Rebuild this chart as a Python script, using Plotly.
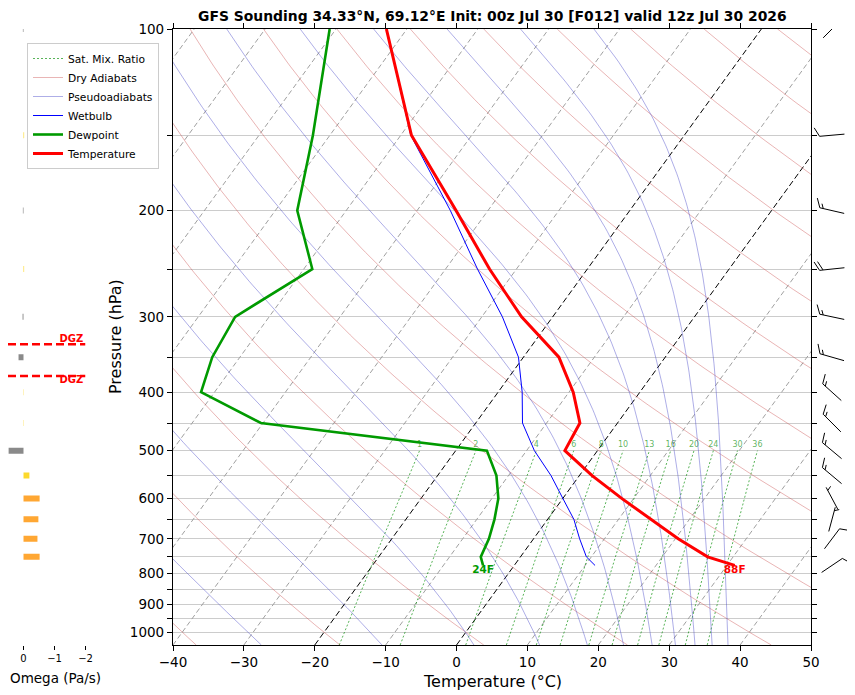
# Skew-T sounding (GFS, 34.33N 69.12E) with omega bars and wind barbs
import numpy as np
import plotly.graph_objects as go

# ---- sounding data (hPa / degC), surface first ----
p_levels = [775, 750, 700, 650, 600, 550, 500, 450, 400, 350, 300, 250, 200, 150, 100]
temp_c = [31.1, 26.4, 20.4, 14.6, 8.3, 1.8, -4.6, -5.3, -9.4, -15.0, -24.4, -33.8, -44.5, -58.5, -72.9]
dewpt_c = [-4.4, -5.6, -6.3, -7.5, -9.1, -11.7, -15.6, -50.3, -61.9, -63.9, -64.8, -58.8, -66.9, -72.4, -80.9]
wetbulb_c = [11.4, 9.3, 6.5, 3.7, 0.0, -4.0, -8.9, -13.4, -16.6, -20.7, -27.1, -35.5, -45.3, -58.6, -72.9]

# ---- vertical velocity (Pa/s) ----
omega_p = [100, 150, 200, 250, 300, 350, 400, 450, 500, 550, 600, 650, 700, 750]
omega = [0.02, -0.02, 0.02, -0.02, 0.03, 0.16, -0.01, -0.01, 0.48, -0.19, -0.52, -0.48, -0.45, -0.52]

# ---- winds (direction from, knots) ----
wind_p = [100, 150, 200, 250, 300, 350, 400, 450, 500, 550, 600, 650, 700, 775]
wind_dir = [45, 265, 283, 264, 282, 286, 312, 315, 310, 310, 332, 15, 37, 56]
wind_kt = [15, 10, 15, 20, 15, 15, 15, 15, 15, 15, 5, 5, 10, 10]

# ---- background lines ----
isotherms = [-100, -90, -80, -70, -60, -50, -40, -30, -10, 10, 20, 30, 40, 50]
key_isotherms = [-20, 0]
dry_theta = [-40, -20, 0, 20, 40, 60, 80, 100, 120, 140, 160, 180, 200, 220]
moist_theta = [-30, -10, 10, 30, 50, 70, 90, 110, 130, 150, 170]
mix_ratios = [1, 2, 4, 6, 8, 10, 13, 16, 20, 24, 30, 36]

TITLE = "GFS Sounding 34.33°N, 69.12°E Init: 00z Jul 30 [F012] valid 12z Jul 30 2026"

P_BOT, P_TOP = 1050.0, 100.0
W, H = 855, 695            # browser window
OFF = 8                    # page body margin
WP, HP = W - OFF, H - OFF  # figure size
X0, X1, Y0, Y1 = 173, 811, 29, 645          # main plot box, window pixels
PX_PER_DEC = (Y1 - Y0) / np.log10(P_BOT / P_TOP)
PX_PER_DEG = (X1 - X0) / 90.0
SKEW = 0.725 * PX_PER_DEC / PX_PER_DEG     # degC per decade of pressure

Rd, Cp, Lv, EPS = 287.04749, 1004.67, 2.50084e6, 0.621957
KAPPA = Rd / Cp
FONT = "DejaVu Sans"


def fx(px):
    return (px - OFF) / WP


def fy(py):
    return 1 - (py - OFF) / HP


def skew_x(t, p):
    return np.asarray(t, dtype=float) + SKEW * np.log10(P_BOT / np.asarray(p, dtype=float))


def moist_rate(t_k, p):
    es = 6.112 * np.exp(17.67 * (t_k - 273.15) / (t_k - 29.65))
    rs = EPS * es / (p - es)
    return (Rd * t_k + Lv * rs) / (Cp + Lv * Lv * rs * EPS / (Rd * t_k * t_k))


lnp = np.linspace(np.log(P_TOP), np.log(P_BOT), 150)
pgrid = np.exp(lnp)


def pseudoadiabat(theta_c):
    t = (theta_c + 273.15) * (P_TOP / 1000.0) ** KAPPA
    out = [t]
    for a, b in zip(lnp[:-1], lnp[1:]):
        h = b - a
        k1 = moist_rate(t, np.exp(a))
        k2 = moist_rate(t + h * k1 / 2, np.exp(a + h / 2))
        k3 = moist_rate(t + h * k2 / 2, np.exp(a + h / 2))
        k4 = moist_rate(t + h * k3, np.exp(b))
        t = t + h * (k1 + 2 * k2 + 2 * k3 + k4) / 6
        out.append(t)
    return np.array(out) - 273.15


def join(lines):
    xs, ys = [], []
    for x, y in lines:
        xs += list(x) + [None]
        ys += list(y) + [None]
    return xs, ys


fig = go.Figure()

# isotherms
xs, ys = join([(skew_x([t, t], [P_BOT, P_TOP]), [P_BOT, P_TOP]) for t in isotherms])
fig.add_trace(go.Scatter(x=xs, y=ys, mode="lines", showlegend=False, hoverinfo="skip",
                         line=dict(color="#a0a0a0", width=1, dash="5px,3px")))
xs, ys = join([(skew_x([t, t], [P_BOT, P_TOP]), [P_BOT, P_TOP]) for t in key_isotherms])
fig.add_trace(go.Scatter(x=xs, y=ys, mode="lines", showlegend=False, hoverinfo="skip",
                         line=dict(color="black", width=1, dash="6px,3px")))

# saturation mixing ratio lines
pmix = np.linspace(P_BOT, 500, 30)
mix_lines, lab_x = [], []
for w in mix_ratios:
    e = pmix * (w / 1000.0) / (EPS + w / 1000.0)
    lg = np.log(e / 6.112)
    td = 243.5 * lg / (17.67 - lg)
    mix_lines.append((skew_x(td, pmix), pmix))
    lab_x.append(skew_x(td[-1], 500)[()])
xs, ys = join(mix_lines)
fig.add_trace(go.Scatter(x=xs, y=ys, mode="lines", name="Sat. Mix. Ratio", hoverinfo="skip",
                         line=dict(color="rgba(0,140,0,0.65)", width=1, dash="2px,2px")))
fig.add_trace(go.Scatter(x=lab_x, y=[490] * len(mix_ratios), mode="text", showlegend=False,
                         text=[str(w) for w in mix_ratios], hoverinfo="skip",
                         textfont=dict(family=FONT, size=8, color="rgba(0,140,0,0.65)")))

# dry adiabats
xs, ys = join([(skew_x((th + 273.15) * (pgrid / 1000.0) ** KAPPA - 273.15, pgrid), pgrid)
               for th in dry_theta])
fig.add_trace(go.Scatter(x=xs, y=ys, mode="lines", name="Dry Adiabats", hoverinfo="skip",
                         line=dict(color="rgba(200,70,70,0.5)", width=0.8)))

# pseudoadiabats
xs, ys = join([(skew_x(pseudoadiabat(th), pgrid), pgrid) for th in moist_theta])
fig.add_trace(go.Scatter(x=xs, y=ys, mode="lines", name="Pseudoadiabats", hoverinfo="skip",
                         line=dict(color="rgba(70,70,200,0.55)", width=0.8)))

# profiles
fig.add_trace(go.Scatter(x=skew_x(wetbulb_c, p_levels), y=p_levels, mode="lines", name="Wetbulb",
                         line=dict(color="#0000ff", width=1)))
fig.add_trace(go.Scatter(x=skew_x(dewpt_c, p_levels), y=p_levels, mode="lines", name="Dewpoint",
                         line=dict(color="#009a00", width=2.6)))
fig.add_trace(go.Scatter(x=skew_x(temp_c, p_levels), y=p_levels, mode="lines", name="Temperature",
                         line=dict(color="#ff0000", width=3)))

# surface labels in F
for val, col in [(temp_c[0], "#ff0000"), (dewpt_c[0], "#009a00")]:
    fig.add_trace(go.Scatter(x=skew_x([val], [p_levels[0]]), y=[p_levels[0]], mode="text",
                             text=["<b>%dF</b>" % round(val * 9 / 5 + 32)], textposition="bottom center",
                             showlegend=False, hoverinfo="skip",
                             textfont=dict(family=FONT, size=10.5, color=col)))

# ---- omega panel ----
half = 3.0 / PX_PER_DEC
groups = {"#8a8a8a": [], "#fcd92c": [], "#ffa733": []}
for p, w in zip(omega_p, omega):
    col = "#8a8a8a" if w > 0 else ("#fcd92c" if w > -0.3 else "#ffa733")
    lo, hi = p * 10 ** (-half), p * 10 ** half
    groups[col].append(([0, w, w, 0, 0], [lo, lo, hi, hi, lo]))
for col, polys in groups.items():
    xs, ys = join(polys)
    fig.add_trace(go.Scatter(x=xs, y=ys, xaxis="x2", yaxis="y2", mode="lines", fill="toself",
                             fillcolor=col, line=dict(width=0, color=col), showlegend=False,
                             hoverinfo="skip"))


def level_of(tval):
    lp = np.log(p_levels)
    for i in range(len(temp_c) - 1):
        a, b = temp_c[i], temp_c[i + 1]
        if (a - tval) * (b - tval) <= 0 and a != b:
            f = (tval - a) / (b - a)
            return float(np.exp(lp[i] + f * (lp[i + 1] - lp[i])))


dgz = [level_of(-12), level_of(-18)]
for pz, pos in zip(dgz, ["bottom left", "top left"]):
    fig.add_trace(go.Scatter(x=[0.5, -2.0], y=[pz, pz], xaxis="x2", yaxis="y2", mode="lines",
                             line=dict(color="#ff0000", width=2.6, dash="8px,4px"),
                             showlegend=False, hoverinfo="skip"))
    fig.add_trace(go.Scatter(x=[-1.93], y=[pz], xaxis="x2", yaxis="y2", mode="text",
                             text=["<b>DGZ</b>"], textposition=pos, showlegend=False,
                             hoverinfo="skip",
                             textfont=dict(family=FONT, size=10, color="#ff0000")))

# ---- wind barbs (x3 in pixels, y3 in pressure) ----
L, FULL, SP, CX = 25.0, 10.0, 3.5, 21.0
bx, by = [], []


def add_seg(p, pts):
    for dx, dy in pts:
        bx.append(CX + dx)
        by.append(p * 10 ** (-dy / PX_PER_DEC))
    bx.append(None)
    by.append(None)


for p, d, spd in zip(wind_p, wind_dir, wind_kt):
    r = np.radians(d)
    u = np.array([np.sin(r), np.cos(r)])       # towards where the wind comes from
    rp = np.array([u[1], -u[0]])
    tip, end = -u * L / 2, u * L / 2
    add_seg(p, [tip, end])
    fv = 0.46 * u + 0.89 * rp
    n_full, n_half = int(spd // 10), int((spd % 10) >= 5)
    pos = 0
    if n_full == 0 and n_half:
        pos = 1
    for k in range(n_full):
        q = end - u * SP * pos
        add_seg(p, [q, q + fv * FULL])
        pos += 1
    if n_half:
        q = end - u * SP * pos
        add_seg(p, [q, q + fv * FULL / 2])
fig.add_trace(go.Scatter(x=bx, y=by, xaxis="x3", yaxis="y3", mode="lines",
                         line=dict(color="black", width=1), showlegend=False, hoverinfo="skip"))

# ---- layout ----
yrange = [np.log10(P_BOT), np.log10(P_TOP)]
ydom = [fy(Y1), fy(Y0)]
ptick = [100, 150, 200, 250, 300, 350, 400, 450, 500, 550, 600, 650, 700, 750, 800, 850, 900, 950, 1000]
xt = [-40, -30, -20, -10, 0, 10, 20, 30, 40, 50]

fig.update_layout(
    width=WP, height=HP, margin=dict(l=0, r=0, t=0, b=0, pad=0, autoexpand=False),
    plot_bgcolor="white", paper_bgcolor="white",
    font=dict(family=FONT, color="black"),
    xaxis=dict(domain=[fx(X0), fx(X1)], range=[-40, 50], tickvals=xt,
               ticktext=[str(v).replace("-", "\u2212") for v in xt],
               showgrid=False, zeroline=False, showline=True, linecolor="black", linewidth=1.2,
               mirror="ticks", ticks="outside", ticklen=5, tickcolor="black",
               tickfont=dict(size=13.5), anchor="y", automargin=False),
    yaxis=dict(domain=ydom, type="log", range=yrange, tickvals=ptick,
               ticktext=[str(v) if v % 100 == 0 else "" for v in ptick],
               showgrid=True, gridcolor="#cccccc", gridwidth=1, zeroline=False,
               showline=True, linecolor="black", linewidth=1.2, mirror="ticks",
               ticks="outside", ticklen=5, tickcolor="black", tickfont=dict(size=13.5),
               anchor="x", automargin=False),
    xaxis2=dict(domain=[fx(8), fx(85.5)], range=[0.5, -2.0], tickvals=[0, -1, -2],
                ticktext=["0", "\u22121", "\u22122"], showgrid=False, zeroline=False,
                showline=False, ticks="outside", ticklen=4, tickcolor="black",
                tickfont=dict(size=10), anchor="y2", automargin=False),
    yaxis2=dict(domain=ydom, type="log", range=yrange, visible=False, anchor="x2"),
    xaxis3=dict(domain=[fx(X1), 1.0], range=[0, W - X1], visible=False, anchor="y3"),
    yaxis3=dict(domain=ydom, type="log", range=yrange, visible=False, anchor="x3"),
    legend=dict(x=fx(27), y=fy(43), xanchor="left", yanchor="top",
                bgcolor="rgba(255,255,255,0.85)", bordercolor="#cccccc", borderwidth=1,
                font=dict(size=10.7), tracegroupgap=0),
    annotations=[
        dict(text="<b>" + TITLE + "</b>", x=fx((X0 + X1) / 2), y=fy(16), xref="paper",
             yref="paper", xanchor="center", yanchor="middle", showarrow=False,
             font=dict(size=13.9)),
        dict(text="Temperature (°C)", x=fx((X0 + X1) / 2), y=fy(681), xref="paper",
             yref="paper", xanchor="center", yanchor="middle", showarrow=False,
             font=dict(size=16)),
        dict(text="Pressure (hPa)", x=fx(115), y=fy(337), xref="paper", yref="paper",
             xanchor="center", yanchor="middle", showarrow=False, textangle=-90,
             font=dict(size=16)),
        dict(text="Omega (Pa/s)", x=fx(8), y=fy(678), xref="paper", yref="paper",
             xanchor="left", yanchor="middle", showarrow=False, font=dict(size=13.5)),
    ],
)

fig.write_html("out.html")
